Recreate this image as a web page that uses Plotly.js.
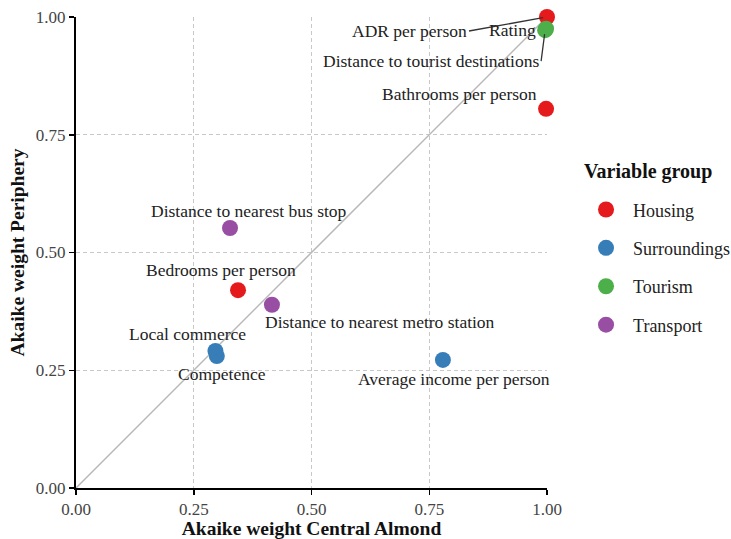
<!DOCTYPE html>
<html><head><meta charset="utf-8">
<script src="https://cdn.plot.ly/plotly-3.0.1.min.js"></script>
<style>html,body{margin:0;padding:0;background:#fff}#chart{width:731px;height:539px}</style>
</head><body><div id="chart"></div>
<script>
const groups = ["Housing", "Surroundings", "Tourism", "Transport"];
const groupColors = ["#E41A1C", "#377EB8", "#4DAF4A", "#984EA3"];
const variables = ["ADR per person", "Bathrooms per person", "Bedrooms per person",
  "Local commerce", "Competence", "Average income per person",
  "Rating", "Distance to tourist destinations",
  "Distance to nearest bus stop", "Distance to nearest metro station"];
const varGroup = ["Housing", "Housing", "Housing",
  "Surroundings", "Surroundings", "Surroundings",
  "Tourism", "Tourism",
  "Transport", "Transport"];
const weightCentral = [1.00, 0.998, 0.344, 0.296, 0.299, 0.779, 0.998, 0.996, 0.327, 0.416];
const weightPeriphery = [1.00, 0.805, 0.420, 0.291, 0.280, 0.272, 0.975, 0.972, 0.552, 0.389];
const diagX = [0, 1];
const diagY = [0, 1];
const legendTitle = "Variable group";

// label placement (pixel offsets), kept separate from data
const labelPos = {
  "ADR per person": {arrow: true, ax: -78, ay: 14, xanchor: "right"},
  "Bathrooms per person": {xshift: -7, yshift: 15, xanchor: "right"},
  "Bedrooms per person": {xshift: -17, yshift: 20},
  "Local commerce": {xshift: -28, yshift: 17},
  "Competence": {xshift: 5, yshift: -18},
  "Average income per person": {xshift: 11, yshift: -19},
  "Rating": {xshift: -34, yshift: -1},
  "Distance to tourist destinations": {arrow: true, ax: -4, ay: 31, xanchor: "right"},
  "Distance to nearest bus stop": {xshift: 19, yshift: 17},
  "Distance to nearest metro station": {xshift: 108, yshift: -17}
};

const serif = "Liberation Serif, Times New Roman, serif";
const traces = [{
  x: diagX, y: diagY, mode: "lines", type: "scatter",
  line: {color: "#b8b8b8", width: 1.5}, showlegend: false, hoverinfo: "skip"
}];
groups.forEach((g, gi) => {
  const idx = varGroup.map((v, i) => v === g ? i : -1).filter(i => i >= 0);
  traces.push({
    x: idx.map(i => weightCentral[i]), y: idx.map(i => weightPeriphery[i]),
    text: idx.map(i => variables[i]),
    mode: "markers", type: "scatter", name: g, legendgroup: g,
    marker: {color: groupColors[gi], size: 16}, cliponaxis: false
  });
});

const annotations = variables.map((v, i) => {
  const p = labelPos[v];
  const a = {x: weightCentral[i], y: weightPeriphery[i], xref: "x", yref: "y",
    text: v, font: {family: serif, size: 17.5, color: "#222"}};
  if (p.arrow) {
    Object.assign(a, {showarrow: true, ax: p.ax, ay: p.ay, axref: "pixel", ayref: "pixel",
      arrowhead: 0, arrowwidth: 1.3, arrowcolor: "#333", standoff: 4, xanchor: p.xanchor});
  } else {
    Object.assign(a, {showarrow: false, xshift: p.xshift, yshift: p.yshift,
      xanchor: p.xanchor || "center"});
  }
  return a;
});
annotations.push({
  xref: "paper", yref: "paper", x: 1.074, y: 0.673, xanchor: "left", yanchor: "middle",
  showarrow: false, text: legendTitle,
  font: {family: serif, size: 20, color: "#111", weight: "bold"}
});

const axisCommon = {
  range: [0, 1], tickvals: [0, 0.25, 0.5, 0.75, 1], ticktext: ["0.00", "0.25", "0.50", "0.75", "1.00"],
  showgrid: true, gridcolor: "#c8c8c8", griddash: "4px,3px", gridwidth: 1.3,
  showline: true, linecolor: "#000", linewidth: 2, zeroline: false,
  ticks: "outside", ticklen: 5, tickcolor: "#000", tickwidth: 1.5,
  tickfont: {family: serif, size: 17, color: "#444"}, fixedrange: true
};

const layout = {
  width: 731, height: 539,
  margin: {l: 76, r: 184, t: 17, b: 51, autoexpand: false},
  paper_bgcolor: "#fff", plot_bgcolor: "#fff",
  xaxis: Object.assign({}, axisCommon, {
    title: {text: "Akaike weight Central Almond", font: {family: serif, size: 19.5, color: "#111", weight: "bold"}, standoff: 3}
  }),
  yaxis: Object.assign({}, axisCommon, {
    title: {text: "Akaike weight Periphery", font: {family: serif, size: 19.5, color: "#111", weight: "bold"}, standoff: 6}
  }),
  showlegend: true,
  legend: {
    x: 1.068, y: 0.63, xanchor: "left", yanchor: "top",
    font: {family: serif, size: 18, color: "#222"},
    tracegroupgap: 12, itemsizing: "trace", itemwidth: 44, bgcolor: "rgba(0,0,0,0)"
  },
  annotations: annotations,
  hovermode: false
};

Plotly.newPlot("chart", traces, layout, {displayModeBar: false, staticPlot: true});
</script></body></html>
